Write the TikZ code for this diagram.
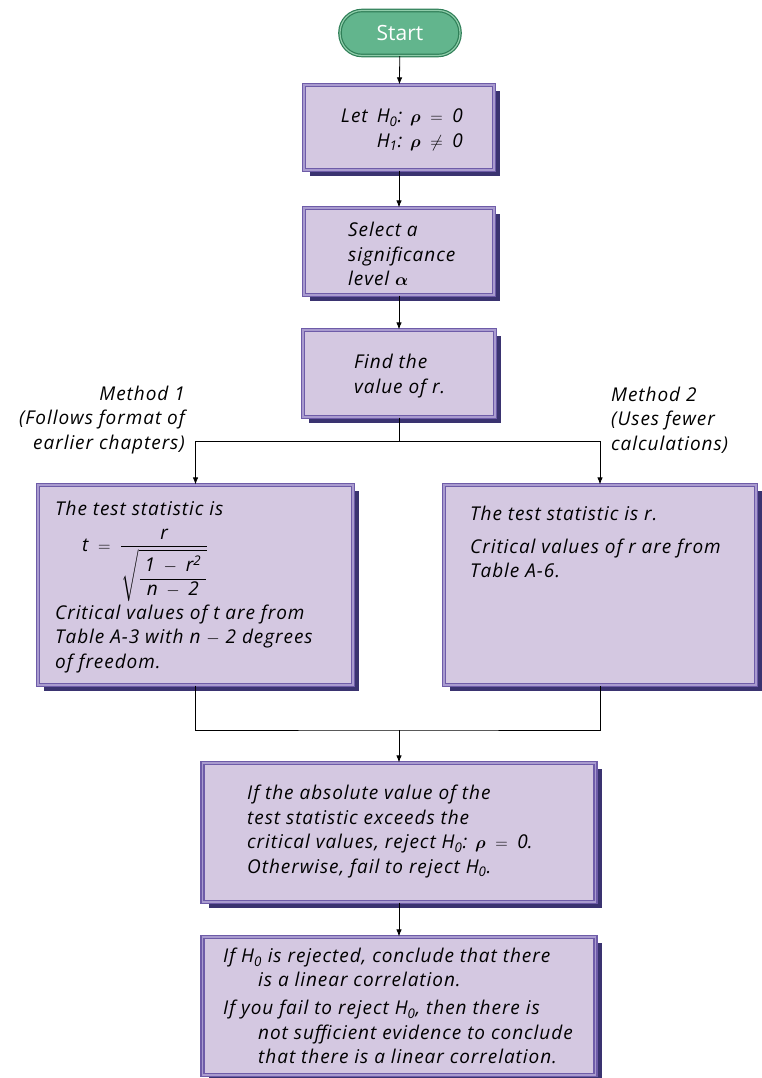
\documentclass[tikz,border=0pt]{standalone}
\usepackage{amsmath,bm}
\usepackage{fontspec}
\setmainfont{Open Sans}
\newfontfamily\handfont{Open Sans}[LetterSpace=5]
\usetikzlibrary{shadows,arrows.meta}
\definecolor{boxfill}{HTML}{D4C8E1}
\definecolor{boxedge}{HTML}{6E5CA8}
\definecolor{boxedgelight}{HTML}{A99BCF}
\definecolor{boxshadow}{HTML}{3A3370}
\definecolor{startfill}{HTML}{62B58D}
\definecolor{startedge}{HTML}{2F7F58}
\definecolor{startedgelight}{HTML}{8FCCAA}
\newcommand{\Hn}[1]{H\textsubscript{#1}}
\newcommand{\tx}[1]{\text{#1}}
\begin{document}
\begin{tikzpicture}[x=1pt,y=-1pt,
  procbox/.style={rectangle, fill=boxfill, draw=boxedge, double=boxedgelight,
    double distance=1.6pt, line width=1.3pt, inner sep=0pt,
    drop shadow={shadow xshift=6pt, shadow yshift=-6pt, fill=boxshadow, opacity=1}},
  startbox/.style={rectangle, rounded corners=22pt, fill=startfill, draw=startedge,
    double=startedgelight, double distance=1.2pt, line width=1.2pt,
    minimum width=120pt, minimum height=45pt, inner sep=0pt,
    text=white, font=\fontsize{21}{24}\selectfont},
  txt/.style={font=\fontsize{19}{24.5}\selectfont\handfont\itshape, inner sep=0pt},
  arr/.style={-{Latex[length=7pt,width=5.5pt]}, line width=0.8pt},
  conn/.style={line width=0.8pt}]
\useasboundingbox (0,0) rectangle (761,1078);

\node[startbox] (start) at (400,33) {Start};
\node[procbox, minimum width=190pt, minimum height=85pt] (b1) at (399,127.5) {};
\node[procbox, minimum width=190pt, minimum height=87pt] (b2) at (399,251.5) {};
\node[procbox, minimum width=192pt, minimum height=87pt] (b3) at (399,373.5) {};
\node[procbox, minimum width=315pt, minimum height=200pt] (lbox) at (195.5,585) {};
\node[procbox, minimum width=312pt, minimum height=200pt] (rbox) at (600,585) {};
\node[procbox, minimum width=393pt, minimum height=139pt] (b5) at (399,832.5) {};
\node[procbox, minimum width=393pt, minimum height=138pt] (b6) at (399,1006) {};

% texts
\node[txt, align=right, anchor=east] (t1) at (463,130)
  {Let\, \Hn{0}: $\bm{\rho}\;=\;\tx{0}$\\ \Hn{1}: $\bm{\rho}\;\neq\;\tx{0}$};
\node[txt, align=left, anchor=west] (t2) at (348,254)
  {Select a\\ significance\\ level $\bm{\alpha}$};
\node[txt, align=left, anchor=west] (t3) at (354,376)
  {Find the\\ value of r.};
\node[txt, align=right, anchor=east] (m1) at (185,420)
  {Method 1\\ (Follows format of\\ earlier chapters)};
\node[txt, align=left, anchor=west] (m2) at (611,420)
  {Method 2\\ (Uses fewer\\ calculations)};
\node[txt, anchor=west] (l1) at (55,508) {The test statistic is};
\node[txt, anchor=base west] (lf) at (82,551)
  {$\tx{t}\;=\;\dfrac{\,\tx{r}\,}{\sqrt{\dfrac{\;\tx{1}\;-\;\tx{r}^{\tx{2}}\;}{\tx{n}\;-\;\tx{2}}}}$};
\node[txt, align=left, anchor=west] (l2) at (55,639)
  {Critical values of t are from\\ Table A-3 with n $-$ 2 degrees\\ of freedom.};
\node[txt, anchor=west] (r1) at (470,513) {The test statistic is r.};
\node[txt, align=left, anchor=west] (r2) at (470,558.5)
  {Critical values of r are from\\ Table A-6.};
\node[txt, align=left, anchor=west] (t5) at (247,831.5)
  {If the absolute value of the\\ test statistic exceeds the\\
   critical values, reject \Hn{0}: $\bm{\rho}\;=\;\tx{0}$.\\ Otherwise, fail to reject \Hn{0}.};
\node[txt, align=left, anchor=west] (t6) at (223,1006)
  {If \Hn{0} is rejected, conclude that there\\
   \hspace*{35pt}is a linear correlation.\\[3.5pt]
   If you fail to reject \Hn{0}, then there is\\
   \hspace*{35pt}not sufficient evidence to conclude\\
   \hspace*{35pt}that there is a linear correlation.};

% connectors
\coordinate (split) at (399,441);
\coordinate (merge) at (399,730);
\draw[arr] (start) -- (b1);
\draw[arr] (b1) -- (b2);
\draw[arr] (b2) -- (b3);
\draw[conn] (b3) -- (split);
\draw[arr] (split) -| (lbox);
\draw[arr] (split) -| (rbox);
\draw[conn] (lbox.south) |- (merge) -| (rbox.south);
\draw[arr] (merge) -- (b5);
\draw[arr] (b5) -- (b6);
\end{tikzpicture}
\end{document}
